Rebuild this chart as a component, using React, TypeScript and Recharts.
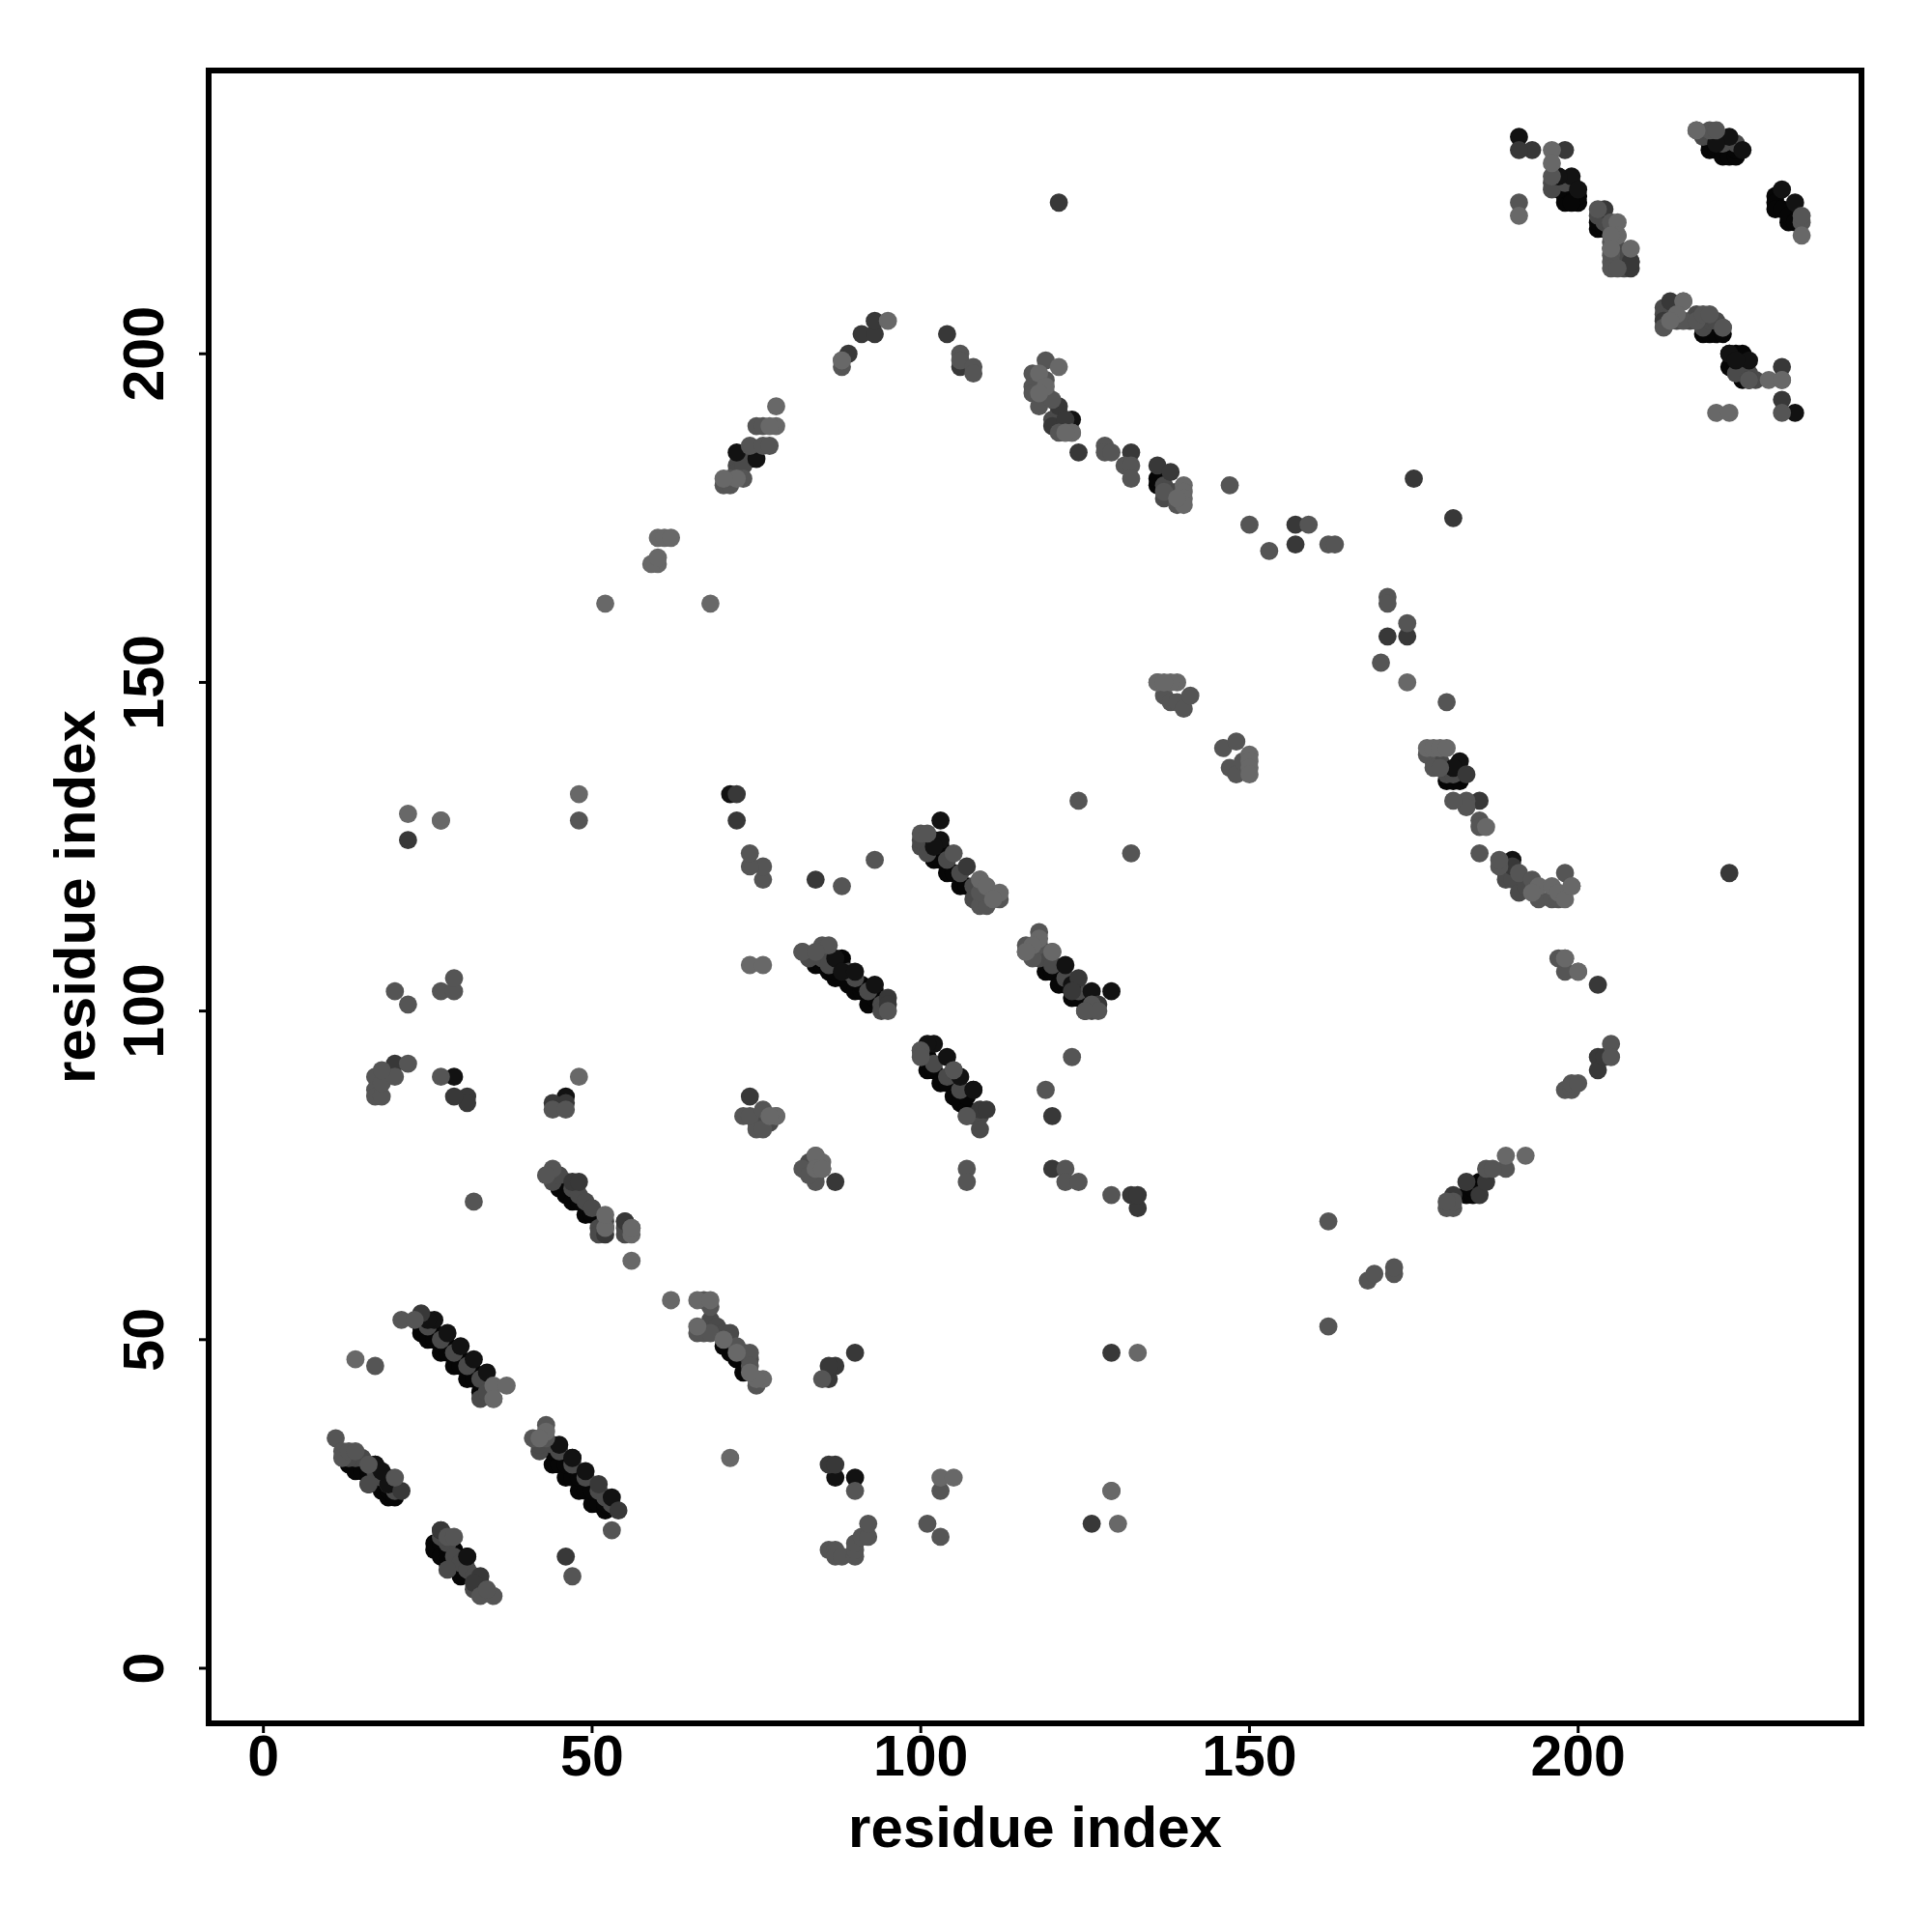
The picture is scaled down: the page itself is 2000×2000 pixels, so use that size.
import React from 'react';
import { ScatterChart, Scatter, XAxis, YAxis, ReferenceArea } from 'recharts';

type P = [number, number];

const tickValues = [0, 50, 100, 150, 200];
const axisTitle = 'residue index';

// drawn first: contacts of the lower rows in each band
const deepPoints: P[] = [
  [24,52],[24,51],[25,50],[26,51],[26,50],[27,48],[28,49],[28,48],[29,46],[30,47],[30,46],[31,44],[32,45],[32,44],[33,42],[34,43],
  [13,31],[14,30],[15,31],[15,30],[16,28],[16,30],[17,29],[18,28],[18,27],[19,26],[19,27],[20,26],[19,29],[17,31],
  [44,31],[45,31],[46,29],[47,29],[48,27],[49,27],[50,25],[51,25],[52,24],[44,33],[46,31],[48,29],[50,27],[52,25],
  [26,19],[26,18],[27,19],[27,17],[28,16],[28,18],[29,16],[29,18],[30,14],[31,17],[31,15],[32,14],[28,17],
  [45,73],[46,72],[47,71],[48,71],[49,69],[46,74],[50,69],
  [84,107],[85,107],[86,106],[87,105],[88,105],[87,106],[88,107],[88,108],[89,104],[90,103],[91,103],[92,101],[93,102],[91,104],[93,103],
  [101,125],[102,123],[103,123],[104,121],[105,121],[106,119],[107,119],[103,125],[102,124],
  [119,106],[120,106],[121,104],[122,104],[123,102],[124,102],[125,100],[126,101],
  [101,91],[102,91],[103,89],[104,89],[105,87],[106,87],[106,86],[107,85],[107,87],[101,93],[108,88],
  [197,227],[197,226],[198,225],[198,224],[198,223],[199,226],[199,224],[200,223],[200,224],[199,223],[197,225],
  [203,219],[203,220],[204,219],
  [220,232],[220,231],[221,231],[222,230],[223,230],[224,230],[222,232],[224,231],
  [230,224],[230,223],[230,222],[231,222],[232,220],[232,221],[233,220],
  [219,203],[220,203],[221,203],[222,203],
  [223,200],[224,200],[223,198],[224,198],[225,199],[225,200],[225,196],
  [72,47],[73,45],[71,48],[70,49],[47,32],[136,180],[136,181],[182,136],[180,135],[181,135],[182,135],
  [183,72],[184,72],[184,73],[185,74],[73,184],[74,184],
];

// grey contacts sitting between the rows
const midPoints: P[] = [
  [25,52],[27,50],[29,48],[31,46],[33,44],[33,41],[35,41],[34,42],
  [14,32],[15,32],[17,30],[18,29],[19,28],[20,27],[16,28],[13,32],
  [42,33],[42,34],[44,34],[45,33],[47,31],[49,29],[51,27],[52,26],[53,25],
  [27,20],[28,19],[29,17],[30,16],[31,15],[32,14],[32,12],[33,12],[33,13],[28,15],
  [44,74],[45,75],[47,73],[48,72],[49,71],[50,70],[51,67],[52,68],[51,66],[55,68],[55,66],[55,67],
  [82,109],[83,108],[85,108],[86,107],[89,106],[90,105],[92,103],[94,101],[94,100],
  [100,125],[100,126],[101,124],[104,123],[106,121],[108,119],[108,117],
  [116,109],[117,109],[118,108],[120,107],[122,105],[124,103],[126,100],
  [100,94],[102,92],[104,90],[106,88],[108,84],[107,84],[109,84],[109,82],
  [75,83],[76,84],[77,83],[83,77],[84,76],[84,75],
  [196,226],[196,225],[198,226],
  [203,221],[204,220],[205,219],[207,213],[206,214],[206,216],[207,215],[208,214],
  [219,233],[221,233],[222,232],[224,232],
  [213,207],[213,206],[214,206],[215,205],[217,205],[218,206],[219,204],[220,205],[221,205],
  [225,197],[226,197],[227,196],[226,196],[224,197],
  [72,183],[72,182],[73,183],[74,185],[120,190],[121,191],[122,189],[137,180],[137,178],[138,179],[139,179],
  [178,138],[179,138],[180,136],[181,136],[189,120],[189,121],[190,120],[191,118],[192,119],
  [73,48],[74,47],[68,53],[69,52],[70,51],[71,51],
];

// the near-black top rows and lone black dots
const nearBlackPoints: P[] = [
  [26,53],[28,51],[30,49],[32,47],[34,45],[25,53],
  [17,31],[19,28],[18,30],
  [45,34],[47,32],[49,30],[53,26],
  [31,17],[27,21],
  [87,108],[88,106],[90,106],[93,104],
  [102,126],[103,126],[102,125],
  [122,107],[126,103],[129,103],[123,104],
  [102,95],[101,95],[104,93],[106,90],[108,88],
  [103,129],[46,87],[29,90],[90,29],[87,29],
  [191,233],[199,227],[197,227],[200,225],
  [223,233],[225,231],[221,232],
  [231,225],[233,223],[233,191],
  [226,199],[223,200],[224,199],
  [75,184],[123,190],[190,123],[182,138],[181,137],
  [72,185],[71,133],
];

// isolated dark greys
const darkPoints: P[] = [
  [24,54],[27,21],[21,27],[54,24],[51,28],[33,14],[32,13],
  [22,126],[20,92],[31,87],[31,86],[29,87],[44,86],[46,86],[72,133],[72,129],[74,87],[87,74],[84,120],
  [47,74],[48,74],[52,67],[55,68],[52,66],[95,102],[95,101],[109,85],[110,85],[105,91],[107,122],
  [124,105],[127,101],[123,103],[121,223],[124,185],[132,185],[136,183],[138,182],[104,203],[91,203],[93,203],[89,200],[93,205],
  [121,192],[120,189],[122,190],[157,174],[157,171],[174,157],[171,157],[181,175],[175,181],
  [193,231],[198,231],[191,231],[203,104],[223,121],[185,132],[183,136],[203,93],[203,91],[185,72],[186,74],
  [133,70],[132,72],[133,72],[129,48],[126,22],[120,84],[86,44],[87,46],[86,31],[87,31],[90,48],
  [213,205],[214,208],[208,213],[208,214],[204,222],[222,204],[231,198],[231,193],[226,196],
  [120,76],[46,17],[86,46],[106,198],[190,122],[204,93],[181,72],[183,74],
];

const greyPoints: P[] = [
  [17,46],[21,53],[23,53],[20,103],[22,101],[17,90],[17,88],[17,87],[18,87],[18,89],[44,85],[46,85],[44,76],[43,75],[56,67],
  [20,29],[16,31],[11,35],[12,33],[12,32],[13,33],[14,33],[43,37],[41,35],[43,35],[53,21],[33,11],[35,11],[34,12],
  [47,14],[32,71],[28,20],[29,20],[73,84],[75,82],[76,82],[74,84],[76,85],[77,84],[78,84],[82,76],[84,74],[85,76],[83,75],[84,78],
  [85,110],[86,110],[82,109],[84,109],[95,100],[116,110],[117,108],[118,112],[118,110],[120,109],[126,101],[127,100],[125,100],
  [100,127],[101,127],[105,124],[109,120],[109,116],[110,116],[111,117],[112,117],[110,118],[109,118],
  [100,94],[100,93],[105,91],[107,84],[107,76],[107,74],[119,88],[122,76],[122,74],[124,74],[129,72],[129,27],[103,20],[101,22],
  [88,198],[88,199],[106,200],[106,199],[108,198],[108,197],[117,197],[117,195],[117,194],[118,192],[119,199],[119,196],[119,194],[120,193],[122,188],[123,188],
  [128,186],[128,185],[129,185],[131,183],[132,183],[132,181],[137,179],[139,177],[147,180],[70,180],[71,180],[73,181],[71,181],[74,186],[76,186],[77,186],[75,189],[76,189],
  [153,170],[159,174],[162,171],[163,171],[150,174],[171,163],[171,162],[174,159],[170,153],[180,147],
  [136,150],[137,148],[138,147],[139,147],[140,146],[141,148],[146,140],[147,137],[148,141],[148,136],[149,138],
  [177,139],[178,137],[179,137],[183,132],[183,131],[181,132],[185,129],[185,128],[185,124],[188,122],[188,123],[191,121],[193,120],[194,117],[196,117],[197,117],[198,121],[199,119],
  [197,108],[198,108],[198,106],[200,106],[205,95],[205,93],[198,88],[199,88],[199,89],[200,89],[189,76],[186,76],[187,76],[181,70],[180,70],[181,71],[180,71],
  [168,59],[169,60],[172,60],[172,61],[162,52],[162,68],
  [191,223],[196,227],[203,222],[205,220],[206,218],[205,217],[205,216],[205,215],[205,214],[205,213],[206,213],
  [218,234],[220,234],[221,234],[234,220],[234,221],[231,191],[216,208],
  [213,204],[214,205],[216,205],[218,205],[219,206],[220,206],[222,204],[231,196],[226,196],
  [66,51],[67,51],[68,51],[68,55],[67,56],[72,49],[74,48],[74,46],[75,44],[75,43],[85,44],
  [86,18],[87,18],[87,17],[88,17],[90,17],[90,18],[90,19],[91,20],[92,20],[92,22],[90,27],[103,27],
  [27,129],[27,90],[22,92],[20,90],[18,91],[27,103],[29,103],[29,105],[48,129],[76,120],[76,122],[74,122],[74,124],[93,123],[88,119],[132,124],[124,132],
  [123,93],[121,188],
];

const lightPoints: P[] = [
  [14,47],[35,43],[37,43],[35,41],[43,36],[42,35],[56,62],[62,56],[22,130],[48,133],[48,90],[27,129],
  [74,107],[76,107],[85,77],[84,78],[78,84],[77,84],[84,76],[85,76],[56,66],[56,67],[52,67],[52,69],
  [109,120],[110,119],[112,118],[111,117],[118,111],[117,110],[116,109],[120,109],
  [78,192],[78,189],[77,189],[72,181],[70,181],[68,162],[52,162],[60,168],[59,168],[60,169],[60,172],[61,172],[62,172],
  [95,205],[88,199],[121,198],[118,197],[119,195],[118,194],[123,188],
  [140,180],[140,179],[140,178],[140,177],[139,178],
  [136,150],[139,150],[138,150],[137,150],[150,139],[150,138],[150,137],[150,136],
  [174,150],[177,140],[178,140],[179,140],[180,140],[186,128],[194,119],[193,118],[196,119],[197,118],[198,117],[192,78],[189,78],[200,106],[198,108],[199,119],
  [196,231],[196,229],[191,221],[208,216],[206,220],[206,218],[205,218],[205,216],[216,208],[215,206],[214,205],[218,234],
  [234,218],[221,191],[223,191],[229,196],[231,196],
  [66,56],[68,56],[66,52],[70,50],[72,48],[76,44],[75,44],[74,45],
  [71,32],[130,22],[133,48],[103,29],[105,29],[129,27],[122,188],
];

const layers = [
  { name: 'deep', pts: deepPoints, fill: '#060606' },
  { name: 'mid', pts: midPoints, fill: '#4a4a4a' },
  { name: 'near', pts: nearBlackPoints, fill: '#121212' },
  { name: 'dark', pts: darkPoints, fill: '#383838' },
  { name: 'grey', pts: greyPoints, fill: '#555555' },
  { name: 'light', pts: lightPoints, fill: '#686868' },
];

const font = '"Liberation Sans", Arial, sans-serif';

const XTick = (p: any) => (
  <text x={p.x} y={1818} textAnchor="middle" dominantBaseline="central" fontFamily={font} fontWeight={700} fontSize={59} fill="#000">
    {p.payload.value}
  </text>
);
const YTick = (p: any) => (
  <text x={149} y={p.y} transform={`rotate(-90 149 ${p.y})`} textAnchor="middle" dominantBaseline="central" fontFamily={font} fontWeight={700} fontSize={59} fill="#000">
    {p.payload.value}
  </text>
);

export default function App() {
  return (
    <div style={{ position: 'absolute', left: 0, top: 0, width: 2000, height: 2000, background: '#fff' }}>
      <ScatterChart width={2000} height={2000} margin={{ left: 0, right: 73, top: 73, bottom: 0 }}>
        <XAxis
          type="number" dataKey="x" domain={[-8.33, 243.1]} ticks={tickValues} allowDataOverflow
          axisLine={false} tickSize={10} tickLine={{ stroke: '#000', strokeWidth: 3 }} tick={XTick} height={216}
          label={{ value: axisTitle, position: 'insideTop', offset: 85, fontFamily: font, fontWeight: 700, fontSize: 60, fill: '#000' }}
        />
        <YAxis
          type="number" dataKey="y" domain={[-8.38, 243.1]} ticks={tickValues} allowDataOverflow
          axisLine={false} tickSize={10} tickLine={{ stroke: '#000', strokeWidth: 3 }} tick={YTick} width={216}
          label={{ value: axisTitle, angle: -90, position: 'insideLeft', offset: 77, textAnchor: 'middle', fontFamily: font, fontWeight: 700, fontSize: 60, fill: '#000' }}
        />
        {layers.map((l) => (
          <Scatter
            key={l.name}
            name={l.name}
            data={l.pts.map(([x, y]) => ({ x, y }))}
            isAnimationActive={false}
            shape={(s: any) => <circle cx={s.cx} cy={s.cy} r={9.4} fill={l.fill} />}
          />
        ))}
        <ReferenceArea x1={-8.33} x2={243.1} y1={-8.38} y2={243.1} fill="none" stroke="#000" strokeWidth={6} ifOverflow="visible" />
      </ScatterChart>
    </div>
  );
}
